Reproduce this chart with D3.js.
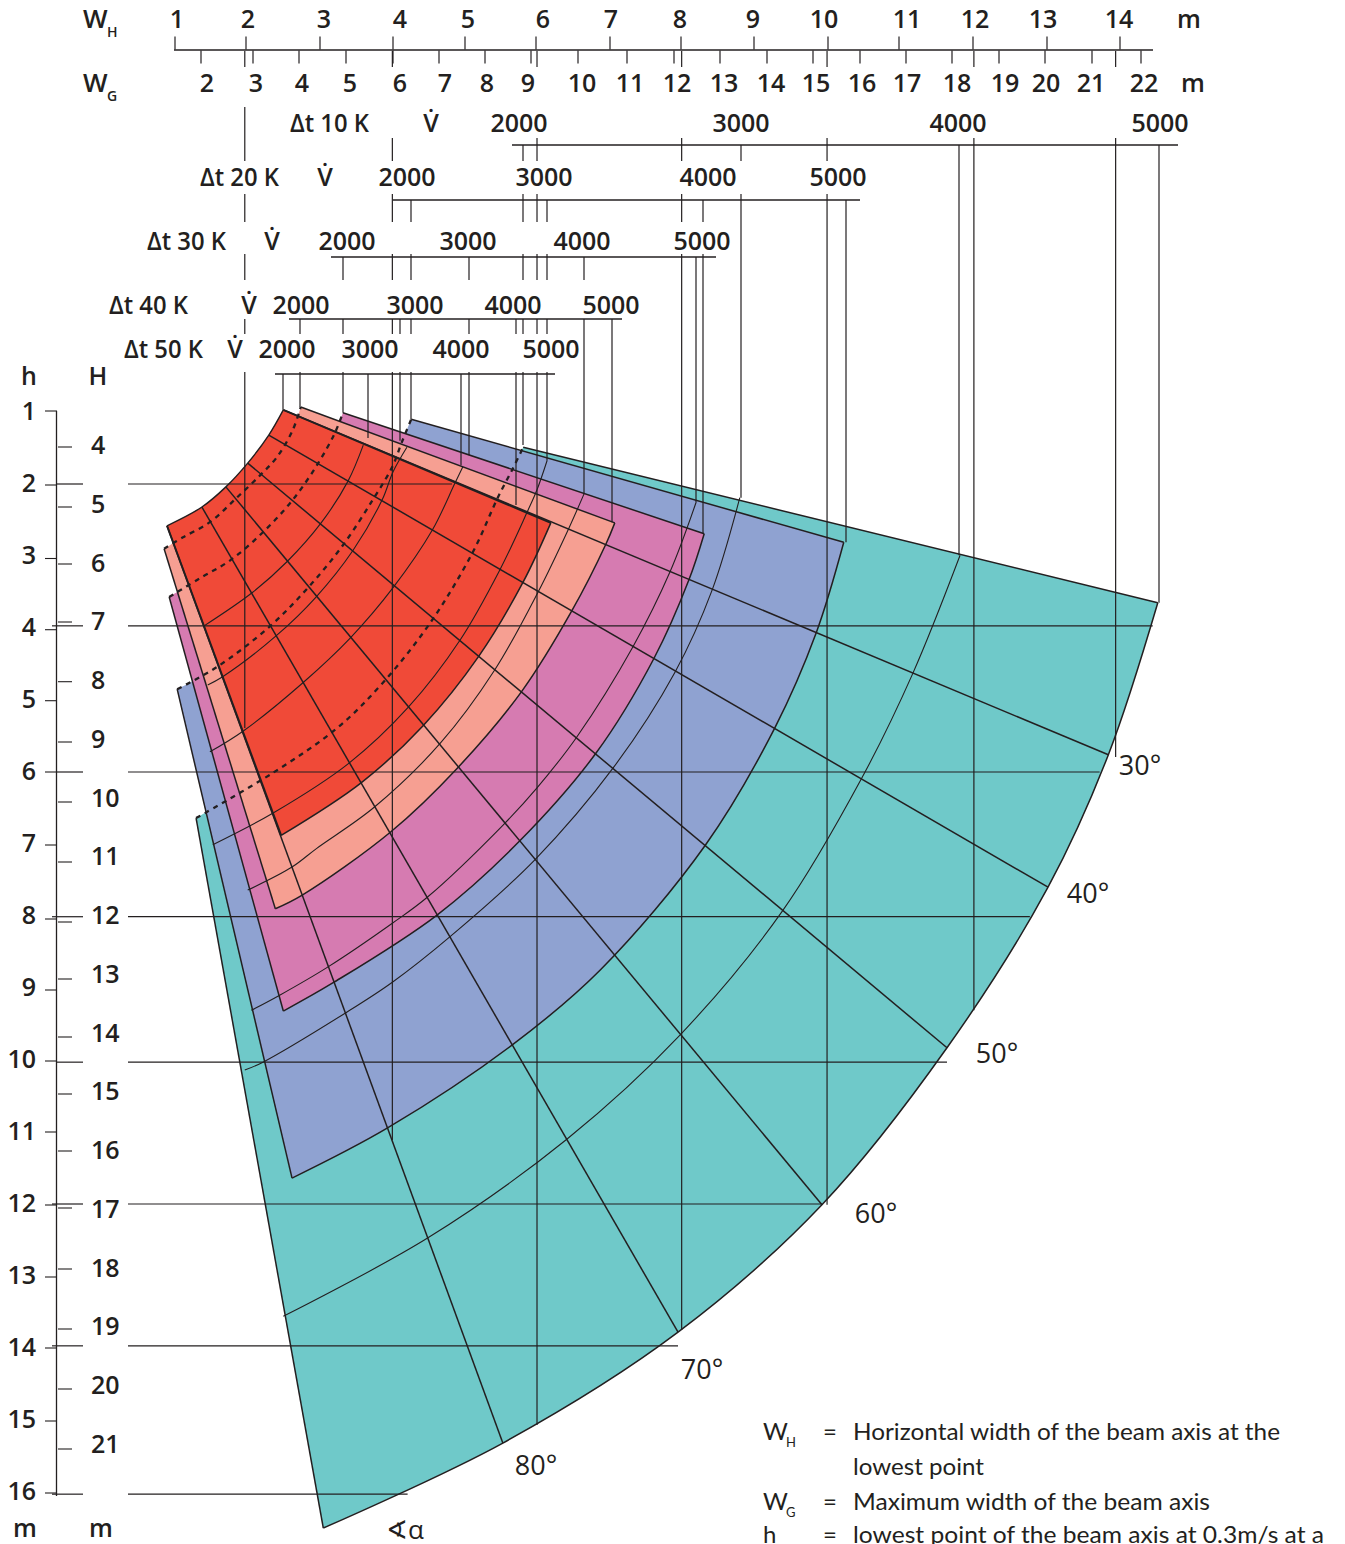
<!DOCTYPE html>
<html><head><meta charset="utf-8">
<style>
html,body{margin:0;padding:0;background:#fff}
svg{display:block}
text{font-family:"Open Sans",sans-serif;fill:#231f20}
</style>
<script src="https://cdnjs.cloudflare.com/ajax/libs/d3/7.8.5/d3.min.js"></script>
</head><body>
<svg id="c" width="1345" height="1544"></svg>
<script>
// ---------- DATA (metres, m³/h, kelvin) ----------
const whTicks = d3.range(1, 15);
const wgTicks = d3.range(2, 23);
const hTicks = d3.range(1, 17);
const bigHTicks = d3.range(4, 22);
const dtValues = [10, 20, 30, 40, 50];
const volumeTicks = [2000, 3000, 4000, 5000];
const angleLabels = [30, 40, 50, 60, 70, 80];

// Each [W, h]; outer edge runs top to left, inner edge runs left to top
const tealOuter = [[14.52,3.65],[13.84,5.76],[13.01,7.60],[11.62,9.83],[9.90,12.01],[7.92,13.78],[5.51,15.32],[3.04,16.50]];
const tealInner = [[1.29,6.64],[2.35,6.01],[3.23,5.39],[3.86,4.76],[4.51,3.93],[5.09,2.96],[5.44,2.19],[5.65,1.78],[5.79,1.49]];
const blueOuter = [[10.20,2.81],[9.82,4.07],[9.25,5.39],[8.30,7.01],[6.85,8.75],[5.64,9.79],[3.93,10.94],[2.61,11.64]];
const blueInner = [[1.03,4.85],[1.58,4.54],[2.29,3.99],[2.83,3.44],[3.31,2.85],[3.72,2.22],[3.99,1.76],[4.12,1.42],[4.25,1.10]];
const magentaOuter = [[8.28,2.69],[8.07,3.33],[7.59,4.42],[6.79,5.74],[5.73,6.97],[4.60,7.99],[3.17,8.93],[2.49,9.32]];
const magentaInner = [[0.92,3.57],[1.34,3.31],[1.76,3.06],[2.21,2.67],[2.62,2.22],[2.97,1.71],[3.20,1.29],[3.31,1.01]];
const salmonOuter = [[7.05,2.54],[6.93,2.83],[6.46,3.76],[5.77,4.88],[4.89,5.94],[3.97,6.83],[2.75,7.71],[2.38,7.90]];
const salmonInner = [[0.85,2.90],[1.11,2.74],[1.48,2.53],[1.85,2.19],[2.17,1.88],[2.40,1.63],[2.62,1.25],[2.73,0.93]];
const redOuter = [[6.17,2.54],[5.79,3.36],[5.18,4.39],[4.41,5.36],[3.56,6.15],[2.46,6.88]];
const redInner = [[0.89,2.58],[1.37,2.32],[1.70,2.04],[2.00,1.71],[2.29,1.32],[2.49,0.97]];

// Angle rays, start and end, in the order of angleLabels
const rays = [
  [[2.49,0.97],[13.84,5.76]],
  [[2.29,1.32],[13.01,7.60]],
  [[2.00,1.71],[11.62,9.83]],
  [[1.70,2.04],[9.90,12.01]],
  [[1.37,2.32],[7.92,13.78]],
  [[0.89,2.58],[5.51,15.32]]
];

// Thin constant-volume arcs
const volumeArcs = [
  [[3.59,1.46],[3.38,1.96],[3.01,2.54],[2.54,3.08],[2.06,3.51],[1.40,3.97]],
  [[4.19,1.49],[4.00,1.83],[3.85,2.22],[3.45,2.92],[2.94,3.57],[2.39,4.11],[1.65,4.68],[1.45,4.79]],
  [[4.96,1.76],[4.85,1.99],[4.54,2.64],[4.00,3.44],[3.41,4.14],[2.76,4.76],[1.94,5.43],[1.48,5.72]],
  [[6.12,1.67],[5.98,2.08],[5.84,2.40],[5.47,3.19],[4.92,4.17],[4.21,5.10],[3.39,5.88],[2.35,6.57],[1.52,7.01]],
  [[6.63,2.13],[6.42,2.61],[5.99,3.51],[5.40,4.58],[4.65,5.60],[3.74,6.49],[2.95,7.06],[2.61,7.32],[2.00,7.64]],
  [[8.17,2.25],[7.81,3.22],[7.30,4.26],[6.53,5.51],[5.98,6.22],[5.51,6.74],[4.47,7.74],[3.99,8.10],[3.10,8.71],[2.44,9.10],[2.05,9.31]],
  [[8.77,2.19],[8.39,3.47],[7.88,4.61],[7.03,5.94],[5.95,7.22],[4.78,8.29],[3.99,8.92],[3.34,9.35],[2.21,10.03],[1.96,10.14]],
  [[11.80,2.99],[11.15,4.63],[10.45,6.08],[9.35,7.94],[7.95,9.65],[6.39,11.10],[4.48,12.47],[2.49,13.56]]
];

// Horizontal guides: h value and W where each one ends
const hGuideValues = [2.00, 3.97, 6.00, 8.01, 10.03, 12.00, 13.97, 16.03];
const hGuideEnds = [4.81, 14.45, 13.72, 12.76, 11.62, 9.90, 7.92, 4.20];

// Vertical guides dropping from the W scales: W value and h where each one ends
const masterW = [1.96, 3.99, 5.98, 7.97, 9.97, 11.99, 13.94];
const masterEnds = [5.39, 11.11, 15.07, 13.75, 12.01, 9.31, 5.79];
// h where the guide of each volume tick ends, per Δt row (null: shares an existing guide)
const volumeEnds10 = [1.46, 2.19, 2.99, 3.65];
const volumeEnds20 = [1.10, 1.67, 2.69, 2.81];
const volumeEnds30 = [1.01, 1.60, 2.13, 2.25];
const volumeEnds40 = [0.93, 1.40, 2.29, 2.53];
const volumeEnds50 = [0.97, 1.36, 1.74, null];

const legendRows = [
  ["W","H","=","Horizontal width of the beam axis at the"],
  ["","","","lowest point"],
  ["W","G","=","Maximum width of the beam axis"],
  ["h","","=","lowest point of the beam axis at 0.3m/s at a"]
];

// ---------- LAYOUT ----------
const ink = "#231f20";
const sectorColors = ["#6fc9c9","#8fa2d1","#d67bb1","#f69f92","#f04a38"];
const xW = d3.scaleLinear().domain([1,14]).range([175,1120]);
const yH = d3.scaleLinear().domain([1,16]).range([412,1492]);
const xWTick = d3.scaleLinear().domain(whTicks).range([175,246,320,393,465,536,610,681,754,828,899,973,1047,1120]);
const xWG = d3.scaleLinear().domain(wgTicks).range([201,253,299,346,393,439,485,531,578,627,674,720,767,813,860,906,952,999,1045,1092,1141]);
const yHTick = d3.scaleLinear().domain(hTicks).range([411,485,558.5,629.7,700.7,772,845,919,990,1061,1132,1205,1277,1348,1421,1493]);
const yBigH = d3.scaleLinear().domain(bigHTicks).range([447,507,564,622,681.7,742,802,862,922,979,1037,1094,1151,1208,1269,1329,1389,1449]);
const yBigHLabel = d3.scaleLinear().domain([4,21]).range([454,1453]);
const rowBars = [145,200,257,319,374];
const rowBaselines = [132,186,250,314,358];
const rowExtents = [[512,1178],[393,860],[331,716],[289,622],[275,555]];
const rowTickX = [[523,741,959,1159],[411,547,703,846],[343,469,584,696],[300,400,516,612],[283,368,461,547]];
const rowLabelX = [[519,741,958,1160],[407,544,708,838],[347,468,582,702],[301,415,513,611],[287,370,461,551]];
const rowTitleX = [290,200,147,109,124];
const rowDotVX = [431,325,272,249,235];
const rowScales = rowTickX.map(r => d3.scaleLinear().domain(volumeTicks).range(r));
const volumeEnds = [volumeEnds10,volumeEnds20,volumeEnds30,volumeEnds40,volumeEnds50];
const rowSolid = [[4,1,0,0],[4,4,2,1],[4,4,3,2],[4,4,4,3],[4,4,4,4]];
const masterSolid = [4,4,4,2,1,0,0];
const shortSegments = [[161],[222],[280],[334]];
const rowTopAbove = [138,194,254,319,372];
const whLabelX = [177,248,324,400,468,543,611,680,753,824,907,975,1043,1119];
const wgLabelX = [207,256,302,350,400,445,487,528,582,630,677,724,771,816,862,907,957,1005,1046,1091,1144];
const angleLabelPos = [[1140,775],[1088,903],[997,1063],[876,1223],[702,1379],[536,1475]];
const longStubGuides = [3.97,8.01,12.00,13.97,16.03];
const textWeight = 650;

const svg = d3.select("#c");
const smooth = d3.line().x(d=>xW(d[0])).y(d=>yH(d[1])).curve(d3.curveCatmullRom.alpha(0.5));
const straight = d3.line().x(d=>xW(d[0])).y(d=>yH(d[1]));
function seg(g,x1,y1,x2,y2,w=1.2){
  return g.append("line").attr("x1",x1).attr("y1",y1).attr("x2",x2).attr("y2",y2)
    .attr("stroke",ink).attr("stroke-width",w);
}
function label(g,t,x,y,o={}){
  const e = g.append("text").attr("x",x).attr("y",y).text(t)
   .attr("text-anchor",o.anchor||"middle").attr("font-size",o.size||25)
   .attr("font-weight",o.weight||textWeight);
  if(o.len) e.attr("textLength",o.len).attr("lengthAdjust","spacingAndGlyphs");
  return e;
}

// ---------- SECTORS ----------
const gF = svg.append("g");
const sectors = [[tealOuter,tealInner],[blueOuter,blueInner],[magentaOuter,magentaInner],[salmonOuter,salmonInner],[redOuter,redInner]];
sectors.forEach((s,i)=>{
  const d = smooth(s[0]) + "L" + smooth(s[1]).slice(1) + "Z";
  gF.append("path").attr("d",d).attr("fill",sectorColors[i]);
});
const gA = svg.append("g").attr("fill","none").attr("stroke",ink);
volumeArcs.forEach(a=>gA.append("path").attr("d",smooth(a)).attr("stroke-width",1.1));
rays.forEach(r=>gA.append("path").attr("d",straight(r)).attr("stroke-width",1.5));
sectors.forEach((s,i)=>{
  const top = [s[1][s[1].length-1], s[0][0]];
  const left = [s[0][s[0].length-1], s[1][0]];
  gA.append("path").attr("d",smooth(s[0])).attr("stroke-width",1.5);
  gA.append("path").attr("d",straight(top)).attr("stroke-width",i===4?2:1.5);
  gA.append("path").attr("d",straight(left)).attr("stroke-width",i===4?2:1.5);
  gA.append("path").attr("d",smooth(s[1])).attr("stroke-width",i===4?1.4:2.3)
    .attr("stroke-dasharray",i===4?null:"5 5");
});

// ---------- HORIZONTAL GUIDES ----------
const gG = svg.append("g");
hGuideValues.forEach((h,i)=>{
  seg(gG,128,yH(h),xW(hGuideEnds[i]),yH(h),1.2);
  seg(gG,longStubGuides.includes(h)?52:57,yH(h),83,yH(h),1.2);
});

// ---------- VERTICAL GUIDES ----------
function drop(x,firstRow,solidRow,endH,fromWG){
  if(fromWG) seg(gG,x,51,x,67,1.2);
  for(let r=firstRow;r<solidRow;r++){
    const top = (x===xW(masterW[0]) && r===0) ? 107 : (r===firstRow && !fromWG ? rowBars[r] : rowTopAbove[r]);
    seg(gG,x,top,x,shortSegments[r][0],1.2);
  }
  const top = (solidRow===firstRow && !fromWG) ? rowBars[solidRow] : rowTopAbove[solidRow];
  seg(gG,x,top,x,yH(endH),1.2);
}
masterW.forEach((w,i)=>drop(xW(w),0,masterSolid[i],masterEnds[i],true));
dtValues.forEach((dt,r)=>{
  volumeTicks.forEach((v,k)=>{
    const e = volumeEnds[r][k];
    if(e!==null) drop(rowScales[r](v),r,rowSolid[r][k],e,false);
  });
});

// ---------- TOP SCALES ----------
const gT = svg.append("g");
const axW = svg.append("g").attr("transform","translate(-0.5,49.5)")
  .call(d3.axisTop(xWTick).tickValues(whTicks).tickSize(13).tickFormat(""));
const axG = svg.append("g").attr("transform","translate(-0.5,50.5)")
  .call(d3.axisBottom(xWG).tickValues(wgTicks).tickSize(13).tickFormat(""));
[axW,axG].forEach(a=>{a.select(".domain").remove();a.selectAll("line").attr("stroke",ink).attr("stroke-width",1.2);});
seg(gT,174,50,1153,50,1.4);
whTicks.forEach((t,i)=>label(gT,t,whLabelX[i],28));
wgTicks.forEach((t,i)=>label(gT,t,wgLabelX[i],92));
label(gT,"m",1189,28); label(gT,"m",1193,92);
label(gT,"W",83,28,{anchor:"start",size:26}); label(gT,"H",107,37,{anchor:"start",size:14});
label(gT,"W",83,92,{anchor:"start",size:26}); label(gT,"G",107,101,{anchor:"start",size:14});
dtValues.forEach((dt,r)=>{
  seg(gT,rowExtents[r][0],rowBars[r],rowExtents[r][1],rowBars[r],1.3);
  label(gT,"Δt "+dt+" K",rowTitleX[r],rowBaselines[r],{anchor:"start",len:79});
  label(gT,"V\u0307",rowDotVX[r],rowBaselines[r]);
  volumeTicks.forEach((v,k)=>label(gT,v,rowLabelX[r][k],rowBaselines[r]));
});

// ---------- LEFT SCALES ----------
const gL = svg.append("g");
const axH = svg.append("g").attr("transform","translate(57,-0.5)")
  .call(d3.axisLeft(yHTick).tickValues(hTicks).tickSize(12).tickFormat(""));
const axB = svg.append("g").attr("transform","translate(58,-0.5)")
  .call(d3.axisRight(yBigH).tickValues(bigHTicks).tickSize(14).tickFormat(""));
[axH,axB].forEach(a=>{a.select(".domain").remove();a.selectAll("line").attr("stroke",ink).attr("stroke-width",1.1);});
seg(gL,56.5,411,56.5,1496,1.3);
hTicks.forEach(t=>label(gL,t,36,yH(t)+8,{anchor:"end"}));
bigHTicks.forEach(t=>label(gL,t,91,yBigHLabel(t),{anchor:"start"}));
label(gL,"h",29,385); label(gL,"H",98,385);
label(gL,"m",25,1537); label(gL,"m",101,1537);

// ---------- ANGLE LABELS ----------
angleLabels.forEach((a,i)=>label(gL,a+"°",angleLabelPos[i][0],angleLabelPos[i][1],{weight:500,size:27}));
label(gL,"∢α",405,1539,{size:26,weight:400});

// ---------- LEGEND ----------
const gK = svg.append("g");
const legendY = [1440,1475,1510,1543];
const legendLen = [427,131,357,471];
legendRows.forEach((r,i)=>{
  const f = t => t.style("font-family","Lato").attr("font-weight",400);
  if(r[0]) f(label(gK,r[0],763,legendY[i],{anchor:"start",size:24}));
  if(r[1]) f(label(gK,r[1],786,legendY[i]+7,{anchor:"start",size:13}));
  if(r[2]) f(label(gK,r[2],830,legendY[i],{size:24}));
  f(label(gK,r[3],853,legendY[i],{anchor:"start",size:24,len:legendLen[i]}));
});
</script>
</body></html>
